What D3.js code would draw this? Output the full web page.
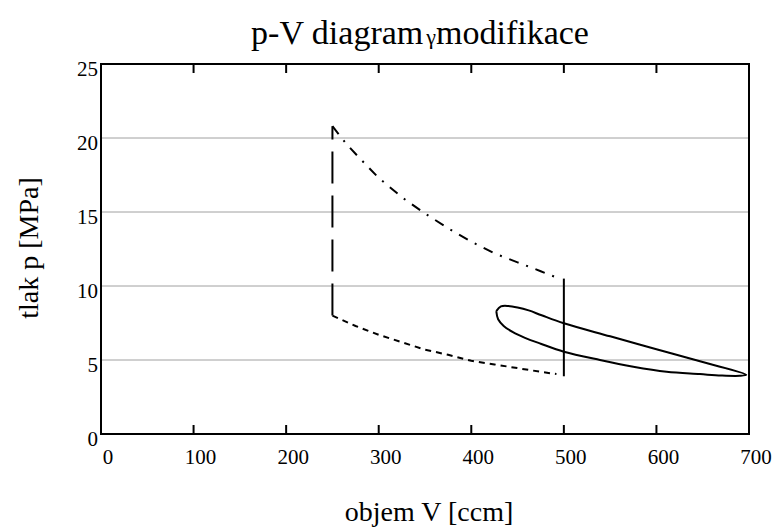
<!DOCTYPE html>
<html>
<script src="https://cdn.jsdelivr.net/npm/d3@7"></script>
<style>
body { margin: 0; background: white; }
text { font-family: "Liberation Serif", "Times New Roman", serif; fill: black; }
</style>
<body>
<svg width="775" height="530"></svg>
<script>
// tick values
var xTicks = [0, 100, 200, 300, 400, 500, 600, 700];
var yTicks = [0, 5, 10, 15, 20, 25];
var yGrid = [5, 10, 15, 20];

// vertical line at V=250 (dashed)
var heatV = [250, 250];
var heatP = [8.0, 20.8];

// expansion (dash-dot)
var expV = [250, 255, 265, 280, 300, 325, 350, 375, 400, 425, 450, 475, 495];
var expP = [20.8, 20.4, 19.6, 18.6, 17.3, 16.0, 14.9, 13.9, 13.0, 12.2, 11.6, 11.0, 10.5];

// vertical line at V=500 (solid)
var exhV = [500, 500];
var exhP = [10.5, 3.9];

// compression (dotted)
var compV = [250, 275, 300, 325, 350, 375, 400, 425, 450, 475, 492];
var compP = [8.0, 7.3, 6.7, 6.2, 5.7, 5.35, 4.95, 4.7, 4.45, 4.2, 4.05];

// closed loop (solid): upper branch left->right, lower branch right->left
var loopV = [427, 432, 440, 450, 462, 476, 500, 550, 600, 650, 697,
             690, 670, 647, 611, 575, 539, 500, 475, 458, 445, 435, 429, 427];
var loopP = [8.3, 8.62, 8.65, 8.55, 8.35, 8.02, 7.48, 6.6, 5.73, 4.86, 4.0,
             3.93, 3.95, 4.05, 4.21, 4.55, 5.0, 5.56, 6.1, 6.5, 6.88, 7.3, 7.75, 8.3];

var svg = d3.select("svg");
var x = d3.scaleLinear().domain([0, 700]).range([101, 749]);
var y = d3.scaleLinear().domain([0, 25]).range([434, 64]);

function pts(vs, ps) { return vs.map(function(v, i) { return [v, ps[i]]; }); }
var line = d3.line().x(function(d) { return x(d[0]); }).y(function(d) { return y(d[1]); });

// grid
svg.append("g").selectAll("line").data(yGrid).enter().append("line")
  .attr("x1", x(0)).attr("x2", x(700))
  .attr("y1", function(d) { return y(d); }).attr("y2", function(d) { return y(d); })
  .attr("stroke", "#a0a0a0").attr("stroke-width", 1);

// x ticks bottom and top
var tk = 9;
svg.append("g").selectAll("line").data(xTicks.slice(1, -1)).enter().append("line")
  .attr("x1", function(d) { return x(d); }).attr("x2", function(d) { return x(d); })
  .attr("y1", y(0)).attr("y2", y(0) - tk)
  .attr("stroke", "black").attr("stroke-width", 2);
svg.append("g").selectAll("line").data(xTicks.slice(1, -1)).enter().append("line")
  .attr("x1", function(d) { return x(d); }).attr("x2", function(d) { return x(d); })
  .attr("y1", y(25)).attr("y2", y(25) + tk)
  .attr("stroke", "black").attr("stroke-width", 2);

// frame
svg.append("rect")
  .attr("x", x(0)).attr("y", y(25))
  .attr("width", x(700) - x(0)).attr("height", y(0) - y(25))
  .attr("fill", "none").attr("stroke", "black").attr("stroke-width", 2);

// tick labels
svg.append("g").selectAll("text").data(xTicks).enter().append("text")
  .attr("x", function(d) { return x(d) + 7; })
  .attr("y", 464)
  .attr("text-anchor", "middle")
  .attr("font-size", 21)
  .text(function(d) { return d; });
svg.append("g").selectAll("text").data(yTicks).enter().append("text")
  .attr("x", 98)
  .attr("y", function(d) { return y(d) + 12; })
  .attr("text-anchor", "end")
  .attr("font-size", 21)
  .text(function(d) { return d; });

// curves
svg.append("path").datum(pts(heatV, heatP)).attr("d", line)
  .attr("fill", "none").attr("stroke", "black").attr("stroke-width", 2)
  .attr("stroke-dasharray", "32,12");
svg.append("path").datum(pts(expV, expP)).attr("d", line)
  .attr("fill", "none").attr("stroke", "black").attr("stroke-width", 2)
  .attr("stroke-dasharray", "10,8,2,8");
svg.append("path").datum(pts(exhV, exhP)).attr("d", line)
  .attr("fill", "none").attr("stroke", "black").attr("stroke-width", 2);
svg.append("path").datum(pts(compV, compP)).attr("d", line)
  .attr("fill", "none").attr("stroke", "black").attr("stroke-width", 2)
  .attr("stroke-dasharray", "6,5");
svg.append("path").datum(pts(loopV, loopP))
  .attr("d", d3.line().x(function(d) { return x(d[0]); }).y(function(d) { return y(d[1]); })
    .curve(d3.curveCatmullRom.alpha(0.5)))
  .attr("fill", "none").attr("stroke", "black").attr("stroke-width", 2);

// titles
var t = svg.append("text").attr("x", 420).attr("y", 44)
  .attr("text-anchor", "middle").attr("font-size", 34);
t.append("tspan").text("p-V diagram");
t.append("tspan").attr("font-size", 22).attr("dx", 3).text("γ");
t.append("tspan").text("modifikace");

svg.append("text").attr("x", 429).attr("y", 521)
  .attr("text-anchor", "middle").attr("font-size", 28)
  .text("objem V [ccm]");

svg.append("text")
  .attr("transform", "translate(38,248)rotate(-90)")
  .attr("text-anchor", "middle").attr("font-size", 28)
  .text("tlak p [MPa]");
</script>
</body>
</html>
